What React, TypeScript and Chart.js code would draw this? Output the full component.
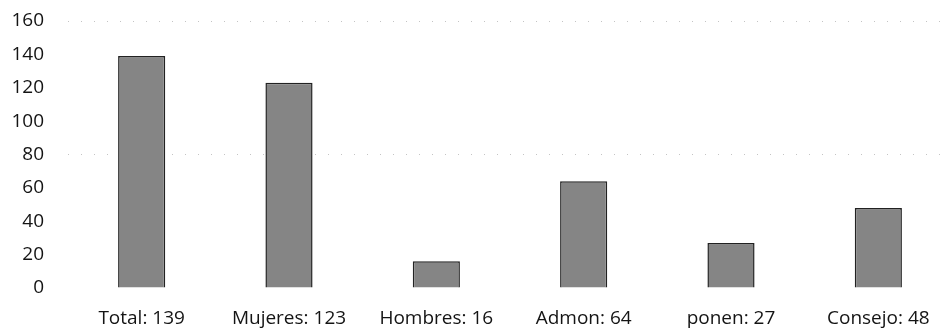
import React, { useEffect, useRef } from "react";
import { Chart, registerables } from "chart.js";

Chart.register(...registerables);

const categories = ["Total: 139", "Mujeres: 123", "Hombres: 16", "Admon: 64", "ponen: 27", "Consejo: 48"];
const values = [139, 123, 16, 64, 27, 48];
const yTicks = [0, 20, 40, 60, 80, 100, 120, 140, 160];

export default function App() {
  const ref = useRef<HTMLCanvasElement | null>(null);

  useEffect(() => {
    document.body.style.overflow = "hidden";
    const canvas = ref.current!;
    const chart = new Chart(canvas, {
      type: "bar",
      data: {
        labels: categories,
        datasets: [
          {
            data: values,
            backgroundColor: "#858585",
            borderColor: "#222222",
            borderWidth: 1.5,
            barPercentage: 0.8,
            categoryPercentage: 0.4,
          },
        ],
      },
      options: {
        animation: false,
        responsive: false,
        maintainAspectRatio: false,
        layout: { autoPadding: false, padding: { left: 0, right: 8, top: 21, bottom: 0 } },
        plugins: { legend: { display: false }, tooltip: { enabled: false } },
        scales: {
          x: {
            offset: true,
            grid: { display: false, drawTicks: false },
            border: { display: false },
            ticks: {
              color: "#141414",
              font: { family: "Open Sans", size: 19 },
              padding: 19,
              maxRotation: 0,
              autoSkip: false,
            },
            afterFit: (s: any) => {
              s.height = 42;
              s.paddingLeft = 0;
              s.paddingRight = 0;
            },
          },
          y: {
            min: 0,
            max: 160,
            afterBuildTicks: (s: any) => {
              s.ticks = yTicks.map((v) => ({ value: v }));
            },
            grid: {
              drawTicks: false,
              lineWidth: 1,
              color: (ctx: any) =>
                ctx.tick && (ctx.tick.value === 80 || ctx.tick.value === 160) ? "#c4c4c4" : "rgba(0,0,0,0)",
            },
            border: { display: false, dash: [1, 12] },
            ticks: {
              color: "#141414",
              font: { family: "Open Sans", size: 19 },
              padding: 24,
            },
            afterFit: (s: any) => {
              s.width = 68;
              s.paddingTop = 0;
              s.paddingBottom = 0;
            },
          },
        },
      },
    });
    return () => chart.destroy();
  }, []);

  return (
    <div style={{ position: "fixed", left: 0, top: 0, width: 940, height: 330, overflow: "hidden", background: "#fff" }}>
      <canvas ref={ref} width={960} height={330} style={{ width: 960, height: 330, display: "block" }} />
    </div>
  );
}
